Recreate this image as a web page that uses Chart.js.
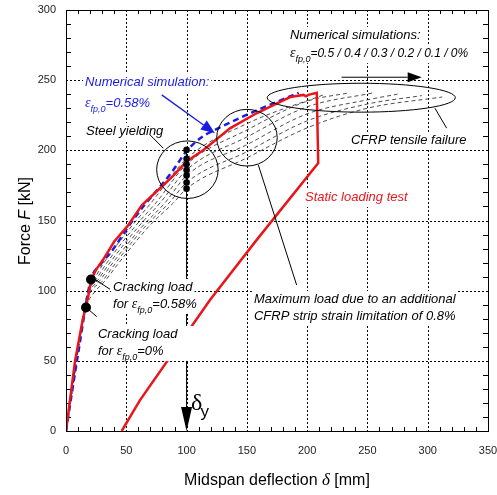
<!DOCTYPE html>
<html><head><meta charset="utf-8">
<script src="https://cdn.jsdelivr.net/npm/chart.js@4/dist/chart.umd.min.js"></script>
<style>html,body{margin:0;padding:0;background:#fff}#wrap{width:497px;height:495px}</style>
</head><body><div id="wrap"><canvas id="c" width="497" height="495"></canvas></div>
<script>
// ---- data ----
const deflectionTicks = [0, 50, 100, 150, 200, 250, 300, 350];
const forceTicks = [0, 50, 100, 150, 200, 250, 300];

// Static loading test (red)
const testDefl  = [0, 7.5, 14, 17, 19.3, 21, 25, 30.7, 40, 51, 63, 78, 89, 100, 114, 136, 158, 175, 186, 197, 199, 201, 208, 209.2, 158, 119.4, 61.4, 46.2];
const testForce = [0, 50, 80, 90, 100, 108, 115, 122, 135, 146, 161, 173, 182, 192, 200.3, 215.7, 226.4, 233.5, 238, 239.5, 238.5, 239.5, 241, 191, 136, 93.4, 22, 0];

// Numerical simulation eps_fp,0 = 0.58 % (blue dashed)
const sim058Defl  = [0, 10, 20.7, 28, 38.6, 52, 65, 78, 89, 100, 113.6, 121, 144, 161, 193];
const sim058Force = [0, 55, 108, 118, 129, 146, 161, 174, 186, 199.5, 210, 213.5, 223, 229.5, 241];

// Numerical simulations eps_fp,0 = 0.5 / 0.4 / 0.3 / 0.2 / 0.1 / 0 %
const sim050Defl  = [0, 19.8, 22.5, 31.5, 54.5, 70.5, 100, 150, 215];
const sim050Force = [0, 105, 107.6, 120, 146, 162.5, 194, 219, 240];
const sim040Defl  = [0, 19.2, 24.5, 34, 57.5, 74.5, 100, 150, 200, 235];
const sim040Force = [0, 102, 107.6, 120, 146, 162.5, 190, 214.5, 235, 241];
const sim030Defl  = [0, 18.6, 26.5, 36.5, 60.5, 78, 100, 150, 200, 255];
const sim030Force = [0, 98.5, 107.6, 120, 146, 162.5, 186, 209.5, 231, 241];
const sim020Defl  = [0, 17.9, 28.5, 39, 63.5, 82, 100, 150, 200, 250, 275];
const sim020Force = [0, 95, 107.6, 120, 146, 162.5, 182, 204, 226, 236, 240];
const sim010Defl  = [0, 17.3, 31, 41.5, 66, 85.5, 100, 150, 200, 250, 295];
const sim010Force = [0, 91.5, 107.6, 120, 146, 162.5, 177, 199, 221, 233, 239];
const sim000Defl  = [0, 16.6, 22, 33, 44, 69, 89, 100, 150, 200, 250, 312];
const sim000Force = [0, 88, 97, 107.6, 120, 146, 162.5, 172.7, 194.6, 216, 230, 238];

// Steel yielding points and cracking loads
const yieldDefl  = [100, 100, 100, 100, 100, 100, 100];
const yieldForce = [172.7, 177, 182, 186, 190, 194, 200.3];
const crackDefl  = [20.7, 16.6];
const crackForce = [108, 88];

// ---- helpers ----
const zip = (xs, ys) => xs.map((v, i) => ({x: v, y: ys[i]}));
const SANS = '"Liberation Sans", Arial, sans-serif';
const SERIF = '"Liberation Serif", "DejaVu Serif", serif';
const RED = '#e8161b', BLUE = '#1a1ae6';

function fontOf(p) { return (p[3] ? 'italic ' : '') + p[1] + 'px ' + (p[4] || SANS); }
function measure(ctx, parts) { let w = 0; for (const p of parts) { ctx.font = fontOf(p); w += ctx.measureText(p[0]).width; } return w; }
function drawRich(ctx, x, y, parts, color) {
  ctx.fillStyle = color; ctx.textBaseline = 'alphabetic'; ctx.textAlign = 'left';
  let cx = x;
  for (const p of parts) { ctx.font = fontOf(p); ctx.fillText(p[0], cx, y + (p[2] || 0)); cx += ctx.measureText(p[0]).width; }
  return cx - x;
}
const eps = (rest, size) => [['ε', 14, 0, true, SERIF], ['fp,0', 9, 5, true], [rest, size || 13, 0, true]];
const it = (t) => [[t, 13, 0, true]];

const labels = [
  {d: 185.7, f: 279.4, c: '#000', parts: it('Numerical simulations:')},
  {d: 185.7, f: 266.4, c: '#000', parts: eps('=0.5 / 0.4 / 0.3 / 0.2 / 0.1 / 0%', 12)},
  {d: 15.8, f: 245.9, c: BLUE, parts: it('Numerical simulation:')},
  {d: 15.8, f: 230.9, c: BLUE, parts: eps('=0.58%')},
  {d: 16.6, f: 211, c: '#000', parts: it('Steel yielding')},
  {d: 236.3, f: 204.6, c: '#000', parts: it('CFRP tensile failure')},
  {d: 198.2, f: 163.9, c: RED, parts: it('Static loading test')},
  {d: 39, f: 99.8, c: '#000', parts: it('Cracking load')},
  {d: 39, f: 87.7, c: '#000', parts: [['for ', 13, 0, true]].concat(eps('=0.58%'))},
  {d: 26.5, f: 66.3, c: '#000', parts: it('Cracking load'), extra: 16},
  {d: 26.5, f: 54.2, c: '#000', parts: [['for ', 13, 0, true]].concat(eps('=0%')), extra: 32},
  {d: 155.9, f: 91.2, c: '#000', parts: it('Maximum load due to an additional')},
  {d: 155.9, f: 79.1, c: '#000', parts: it('CFRP strip strain limitation of 0.8%')}
];
const circles = [
  {d: 100.7, f: 186.2, rd: 25.5, rf: 20.5},
  {d: 150.1, f: 209, rd: 25.1, rf: 20.2},
  {d: 244.9, f: 237.5, rd: 78, rf: 10.3}
];
const leaders = [
  [69.7, 211, 80.7, 201.5],
  [306, 230, 315.7, 215.8],
  [159.5, 189.6, 191.3, 104],
  [22.6, 108.8, 36.5, 101],
  [17.2, 87.7, 25.5, 81.5]
];

function arrow(ctx, x1, y1, x2, y2, color, lw, headLen, headW) {
  const ang = Math.atan2(y2 - y1, x2 - x1);
  ctx.strokeStyle = color; ctx.fillStyle = color; ctx.lineWidth = lw;
  const bx = x2 - headLen * Math.cos(ang), by = y2 - headLen * Math.sin(ang);
  ctx.beginPath(); ctx.moveTo(x1, y1); ctx.lineTo(bx, by); ctx.stroke();
  ctx.beginPath(); ctx.moveTo(x2, y2);
  ctx.lineTo(bx + headW * Math.sin(ang), by - headW * Math.cos(ang));
  ctx.lineTo(bx - headW * Math.sin(ang), by + headW * Math.cos(ang));
  ctx.closePath(); ctx.fill();
}

const decor = {
  id: 'decor',
  beforeDatasetsDraw(chart) {
    const {ctx, chartArea: a, scales: {x, y}} = chart;
    ctx.save();
    ctx.strokeStyle = '#000'; ctx.lineWidth = 1; ctx.setLineDash([2, 2]);
    for (const v of deflectionTicks.slice(1, -1)) {
      const X = Math.round(x.getPixelForValue(v)) + 0.5;
      ctx.beginPath(); ctx.moveTo(X, a.top); ctx.lineTo(X, a.bottom); ctx.stroke();
    }
    for (const v of forceTicks.slice(1, -1)) {
      const Y = Math.round(y.getPixelForValue(v)) + 0.5;
      ctx.beginPath(); ctx.moveTo(a.left, Y); ctx.lineTo(a.right, Y); ctx.stroke();
    }
    ctx.setLineDash([]);
    for (let v = 10; v < 350; v += 10) {
      if (v % 50 === 0) continue;
      const X = Math.round(x.getPixelForValue(v)) + 0.5;
      ctx.beginPath(); ctx.moveTo(X, a.bottom); ctx.lineTo(X, a.bottom - 4);
      ctx.moveTo(X, a.top); ctx.lineTo(X, a.top + 4); ctx.stroke();
    }
    for (let v = 10; v < 300; v += 10) {
      if (v % 50 === 0) continue;
      const Y = Math.round(y.getPixelForValue(v)) + 0.5;
      ctx.beginPath(); ctx.moveTo(a.left, Y); ctx.lineTo(a.left + 5, Y);
      ctx.moveTo(a.right, Y); ctx.lineTo(a.right - 5, Y); ctx.stroke();
    }
    // tick labels
    ctx.fillStyle = '#222'; ctx.font = '11px ' + SANS;
    ctx.textAlign = 'center'; ctx.textBaseline = 'middle';
    for (const v of deflectionTicks) ctx.fillText(String(v), x.getPixelForValue(v), a.bottom + 20);
    ctx.textAlign = 'right';
    for (const v of forceTicks) ctx.fillText(String(v), a.left - 10, y.getPixelForValue(v));
    ctx.restore();
  },
  afterDatasetsDraw(chart) {
    const {ctx, chartArea: a, scales: {x, y}} = chart;
    const X = v => x.getPixelForValue(v), Y = v => y.getPixelForValue(v);
    ctx.save();
    // delta_y vertical line with arrow
    arrow(ctx, X(100), Y(200), X(100), Y(0), '#000', 1, 24, 5.5);
    // white boxes behind labels
    for (const L of labels) {
      const w = measure(ctx, L.parts);
      ctx.fillStyle = '#fff';
      ctx.fillRect(X(L.d) - 2, Y(L.f) - 12, w + 4 + (L.extra || 0), 18);
    }
    // circles / ellipses
    ctx.strokeStyle = '#000'; ctx.lineWidth = 1;
    for (const c of circles) {
      const cx = X(c.d), cy = Y(c.f);
      const rx = X(c.d + c.rd) - cx, ry = cy - Y(c.f + c.rf);
      ctx.beginPath(); ctx.ellipse(cx, cy, rx, ry, 0, 0, Math.PI * 2); ctx.stroke();
    }
    for (const l of leaders) {
      ctx.beginPath(); ctx.moveTo(X(l[0]), Y(l[1])); ctx.lineTo(X(l[2]), Y(l[3])); ctx.stroke();
    }
    // arrows
    arrow(ctx, X(228.6), Y(252.1), X(295), Y(252.1), '#000', 1, 14, 5);
    arrow(ctx, X(79.4), Y(239.5), X(123.5), Y(212.2), BLUE, 1.3, 14, 5.5);
    // labels
    for (const L of labels) drawRich(ctx, X(L.d), Y(L.f), L.parts, L.c);
    // delta_y
    drawRich(ctx, X(103.6), Y(15), [['δ', 24, 0, false, SERIF]], '#000');
    drawRich(ctx, X(111.5), Y(10), [['y', 17, 0, false]], '#000');
    // frame
    ctx.strokeStyle = '#000'; ctx.lineWidth = 1;
    ctx.strokeRect(Math.round(a.left) + 0.5, Math.round(a.top) + 0.5, Math.round(a.right - a.left), Math.round(a.bottom - a.top));
    // axis titles
    const yt = [['Force ', 16, 0, false], ['F', 16, 0, true], [' [kN]', 16, 0, false]];
    const wy = measure(ctx, yt);
    ctx.save(); ctx.translate(30, 221); ctx.rotate(-Math.PI / 2);
    drawRich(ctx, -wy / 2, 0, yt, '#000'); ctx.restore();
    const xt = [['Midspan deflection ', 16, 0, false], ['δ', 17, 0, true, SERIF], [' [mm]', 16, 0, false]];
    const wx = measure(ctx, xt);
    drawRich(ctx, 277 - wx / 2, 485, xt, '#000');
    ctx.restore();
  }
};

const hatch = (xs, ys) => ({data: zip(xs, ys), showLine: true, borderColor: '#222', borderWidth: 0.8, borderDash: [4, 3], pointRadius: 0, cubicInterpolationMode: 'monotone', order: 4});

new Chart(document.getElementById('c'), {
  type: 'scatter',
  data: {datasets: [
    {data: zip(yieldDefl, yieldForce), showLine: false, pointRadius: 3.3, backgroundColor: '#000', borderColor: '#000', borderWidth: 0, order: 0},
    {data: zip(crackDefl, crackForce), showLine: false, pointRadius: 5, backgroundColor: '#000', borderColor: '#000', borderWidth: 0, order: 0},
    {data: zip(testDefl, testForce), showLine: true, borderColor: RED, borderWidth: 2.5, pointRadius: 0, tension: 0, order: 1},
    {data: zip(sim058Defl, sim058Force), showLine: true, borderColor: BLUE, borderWidth: 2.5, borderDash: [6, 4], pointRadius: 0, cubicInterpolationMode: 'monotone', order: 2},
    hatch(sim050Defl, sim050Force), hatch(sim040Defl, sim040Force), hatch(sim030Defl, sim030Force),
    hatch(sim020Defl, sim020Force), hatch(sim010Defl, sim010Force), hatch(sim000Defl, sim000Force)
  ]},
  options: {
    responsive: false, animation: false, devicePixelRatio: 1,
    layout: {padding: {top: 10, right: 9, left: 0, bottom: 0}},
    plugins: {legend: {display: false}, tooltip: {enabled: false}},
    scales: {
      x: {type: 'linear', min: 0, max: 350, afterFit(s) { s.height = 64; },
        grid: {display: false}, border: {display: false},
        ticks: {display: false, stepSize: 50}},
      y: {type: 'linear', min: 0, max: 300, afterFit(s) { s.width = 66; },
        grid: {display: false}, border: {display: false},
        ticks: {display: false, stepSize: 50}}
    }
  },
  plugins: [decor]
});
</script></body></html>
